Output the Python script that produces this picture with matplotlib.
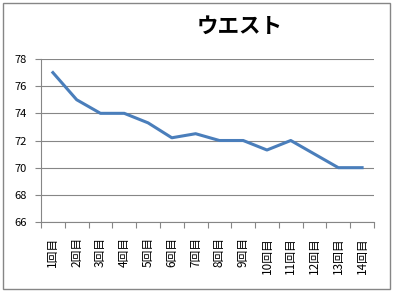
import matplotlib
matplotlib.use('Agg')
import matplotlib.pyplot as plt
from matplotlib.patches import Rectangle

plt.rcParams['font.family'] = ['Noto Sans CJK JP', 'DejaVu Sans']

# データ
labels = [f'{i}回目' for i in range(1, 15)]
waist = [77, 75, 74, 74, 73.3, 72.2, 72.5, 72, 72, 71.3, 72, 71, 70, 70]
yticks = [66, 68, 70, 72, 74, 76, 78]

fig = plt.figure(figsize=(3.93, 2.91), dpi=100)
ax = fig.add_axes([41 / 393, 1 - 222 / 291, 333 / 393, 163 / 291])

x = list(range(len(waist)))
ax.plot(x, waist, color='#4a7ebb', linewidth=2.2, solid_joinstyle='round')

ax.set_xlim(-0.5, len(waist) - 0.5)
ax.set_ylim(66, 78)
ax.set_yticks(yticks)
ax.set_yticklabels([str(v) for v in yticks], fontsize=8)
ax.yaxis.grid(True, color='#868686', linewidth=0.8)
ax.set_axisbelow(True)

# x軸の目盛りは区切り位置、ラベルは中央
ax.set_xticks([i - 0.5 for i in range(len(waist) + 1)])
ax.set_xticklabels([])
ax.set_xticks(x, minor=True)
ax.set_xticklabels(labels, minor=True, rotation=90, fontsize=8.5)
ax.tick_params(axis='x', which='minor', length=0, pad=11)
ax.tick_params(axis='both', which='major', length=4, color='#868686', width=0.8)
ax.tick_params(axis='y', pad=6)

for s in ['top', 'right']:
    ax.spines[s].set_visible(False)
for s in ['left', 'bottom']:
    ax.spines[s].set_color('#868686')
    ax.spines[s].set_linewidth(0.8)

fig.text(240 / 393, 1 - 26 / 291, 'ウエスト', fontsize=15.5, fontweight='bold',
         ha='center', va='center')

# 外枠
fig.patches.append(Rectangle((3 / 393, 2 / 291), 387 / 393, 286 / 291,
                             transform=fig.transFigure, fill=False,
                             edgecolor='#868686', linewidth=1))

plt.savefig('out.png', dpi=100)
